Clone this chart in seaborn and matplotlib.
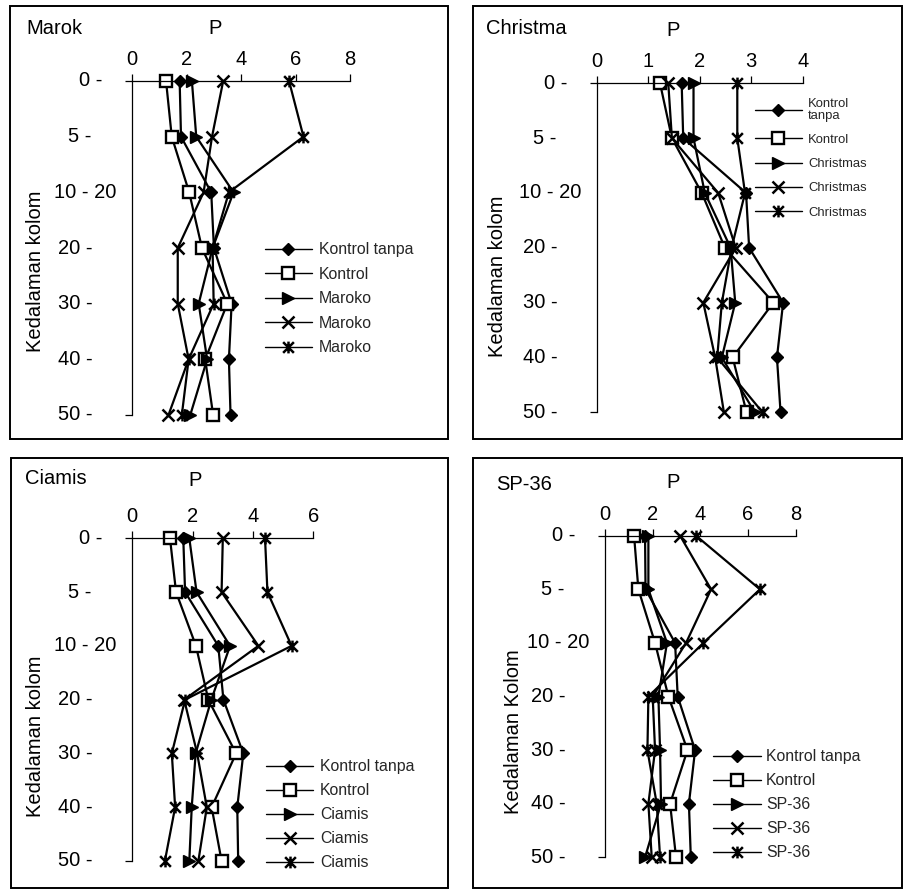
import numpy as np
import pandas as pd
import matplotlib
matplotlib.use("Agg")
import matplotlib.pyplot as plt
import matplotlib.transforms as mtransforms
from matplotlib.path import Path
from matplotlib.lines import Line2D
from matplotlib.patches import Rectangle
import seaborn as sns

sns.set_theme(style="white")
plt.rcParams["font.family"] = ["Liberation Sans", "DejaVu Sans"]

# ---------------- data ----------------
depth_labels = ["0 -", "5 -", "10 - 20", "20 -", "30 -", "40 -", "50 -"]

marok_kontrol_tanpa = [1.74, 1.79, 2.90, 3.00, 3.65, 3.55, 3.61]
marok_kontrol = [1.24, 1.45, 2.09, 2.56, 3.49, 2.68, 2.97]
marok_tri = [2.19, 2.35, 3.72, 2.95, 2.44, 2.75, 2.13]
marok_x = [3.34, 2.93, 2.62, 1.67, 1.67, 2.07, 1.33]
marok_star = [5.76, 6.29, 3.55, 2.95, 2.99, 2.07, 1.82]

christ_kontrol_tanpa = [1.65, 1.68, 2.90, 2.96, 3.62, 3.50, 3.57]
christ_kontrol = [1.23, 1.46, 2.04, 2.49, 3.43, 2.64, 2.91]
christ_tri = [1.88, 1.88, 2.10, 2.60, 2.69, 2.43, 3.07]
christ_x = [1.39, 1.46, 2.36, 2.70, 2.07, 2.30, 2.47]
christ_star = [2.73, 2.73, 2.88, 2.62, 2.43, 2.34, 3.22]

ciamis_kontrol_tanpa = [1.69, 1.75, 2.85, 3.02, 3.68, 3.48, 3.51]
ciamis_kontrol = [1.25, 1.45, 2.11, 2.52, 3.44, 2.63, 2.96]
ciamis_tri = [1.89, 2.13, 3.24, 2.62, 2.10, 1.97, 1.89]
ciamis_x = [3.00, 2.96, 4.18, 1.72, 2.15, 2.47, 2.19]
ciamis_star = [4.40, 4.48, 5.28, 1.75, 1.31, 1.42, 1.08]

sp36_kontrol_tanpa = [1.68, 1.70, 2.94, 3.05, 3.78, 3.52, 3.60]
sp36_kontrol = [1.22, 1.40, 2.10, 2.66, 3.46, 2.73, 2.98]
sp36_tri = [1.82, 1.82, 2.60, 2.24, 2.31, 2.35, 1.68]
sp36_x = [3.15, 4.45, 3.40, 2.00, 2.10, 1.82, 1.96]
sp36_star = [3.82, 6.50, 4.13, 1.82, 1.78, 2.17, 2.31]

x_ticks_8 = [0, 2, 4, 6, 8]
x_ticks_4 = [0, 1, 2, 3, 4]
x_ticks_6 = [0, 2, 4, 6]

# ---------------- styling ----------------
W, H = 904, 893
fig = plt.figure(figsize=(W / 100, H / 100), dpi=100)

star_path = Path([(-0.5, -0.5), (0.5, 0.5), (-0.5, 0.5), (0.5, -0.5), (0, -0.55), (0, 0.55)],
                 [Path.MOVETO, Path.LINETO, Path.MOVETO, Path.LINETO, Path.MOVETO, Path.LINETO])

marker_styles = [
    dict(marker="D", markersize=6.5, markerfacecolor="black", markeredgecolor="black", markeredgewidth=1.0),
    dict(marker="s", markersize=8.3, markerfacecolor="white", markeredgecolor="black", markeredgewidth=1.7),
    dict(marker=">", markersize=8.8, markerfacecolor="black", markeredgecolor="black", markeredgewidth=1.0),
    dict(marker="x", markersize=8.5, markerfacecolor="none", markeredgecolor="black", markeredgewidth=1.8),
    dict(marker=star_path, markersize=8.5, markerfacecolor="none", markeredgecolor="black", markeredgewidth=1.8),
]

label_gap_px = [29.5, 40.5, 15.5, 39.5, 39.5, 39.5, 39.5]
FS = 14.5

panels = [
    dict(title="Marok", treat="Maroko", ylabel="Kedalaman kolom",
         series=[marok_kontrol_tanpa, marok_kontrol, marok_tri, marok_x, marok_star],
         xticks=x_ticks_8, ax_px=(132.3, 350.0, 81.0, 415.0),
         title_px=(26, 28), p_px=(215, 28.5), ylab_px=(36, 271),
         leg=dict(fs=11.4, x0=265, x1=311.7, tx=319, y0=248.3, pitch=24.6, wrap=False)),
    dict(title="Christma", treat="Christmas", ylabel="Kedalaman kolom",
         series=[christ_kontrol_tanpa, christ_kontrol, christ_tri, christ_x, christ_star],
         xticks=x_ticks_4, ax_px=(596.7, 802.7, 83.3, 412.3),
         title_px=(486, 28.3), p_px=(673.3, 30), ylab_px=(497.5, 276.7),
         leg=dict(fs=9.4, x0=755, x1=801.7, tx=808, y0=103.5, pitch=24.5, wrap=True)),
    dict(title="Ciamis", treat="Ciamis", ylabel="Kedalaman kolom",
         series=[ciamis_kontrol_tanpa, ciamis_kontrol, ciamis_tri, ciamis_x, ciamis_star],
         xticks=x_ticks_6, ax_px=(132.3, 313.3, 538.3, 861.0),
         title_px=(25, 478.3), p_px=(195, 481), ylab_px=(35.3, 736.7),
         leg=dict(fs=11.4, x0=265.7, x1=313.3, tx=320, y0=765, pitch=24.2, wrap=False)),
    dict(title="SP-36", treat="SP-36", ylabel="Kedalaman Kolom",
         series=[sp36_kontrol_tanpa, sp36_kontrol, sp36_tri, sp36_x, sp36_star],
         xticks=x_ticks_8, ax_px=(605.0, 795.7, 535.7, 857.3),
         title_px=(496, 484.3), p_px=(673.3, 482.3), ylab_px=(513.3, 731.7),
         leg=dict(fs=11.4, x0=713.3, x1=760.7, tx=766, y0=755, pitch=24.2, wrap=False)),
]

frames_px = [(10, 6, 448, 439), (473, 6, 902, 439), (11, 458, 448, 888), (473, 458, 902, 888)]

for fr in frames_px:
    x0, y0, x1, y1 = fr
    fig.add_artist(Rectangle((x0 / W, 1 - y1 / H), (x1 - x0) / W, (y1 - y0) / H,
                             transform=fig.transFigure, fill=False, lw=1.4, ec="black"))

positions = np.arange(len(depth_labels))

for p in panels:
    x0, x1, yt, yb = p["ax_px"]
    ax = fig.add_axes([x0 / W, 1 - yb / H, (x1 - x0) / W, (yb - yt) / H])
    names = ["Kontrol tanpa", "Kontrol", p["treat"], p["treat"], p["treat"]]
    for vals, st in zip(p["series"], marker_styles):
        sns.lineplot(x=np.array(vals), y=positions, sort=False, estimator=None, orient="y",
                     color="black", lw=1.6, clip_on=False, ax=ax, **st)
    ax.set_xlim(0, p["xticks"][-1])
    ax.set_ylim(len(depth_labels) - 1, 0)
    ax.set_xlabel("")
    ax.set_ylabel("")
    ax.patch.set_alpha(0)
    for s in ["right", "bottom"]:
        ax.spines[s].set_visible(False)
    for s in ["top", "left"]:
        ax.spines[s].set_visible(True)
        ax.spines[s].set_color("black")
        ax.spines[s].set_linewidth(0.9)
    ax.xaxis.tick_top()
    ax.set_xticks(p["xticks"])
    ax.set_xticklabels([str(t) for t in p["xticks"]])
    ax.tick_params(axis="x", top=True, bottom=False, direction="out", length=5, width=0.9,
                   color="black", labelsize=FS, pad=3.5, labelcolor="black")
    ax.set_yticks([0, len(depth_labels) - 1])
    ax.set_yticklabels(["", ""])
    ax.tick_params(axis="y", left=True, direction="out", length=5, width=0.9, color="black")
    ax.grid(False)
    # category labels
    base = mtransforms.blended_transform_factory(ax.transAxes, ax.transData)
    for i, (lab, gap) in enumerate(zip(depth_labels, label_gap_px)):
        tr = mtransforms.offset_copy(base, fig=fig, x=-gap, y=0, units="dots")
        ax.text(0, positions[i], lab, transform=tr, ha="right", va="center",
                fontsize=FS, color="black")
    # titles
    fig.text(p["title_px"][0] / W, 1 - p["title_px"][1] / H, p["title"], ha="left", va="center",
             fontsize=FS, color="black")
    fig.text(p["p_px"][0] / W, 1 - p["p_px"][1] / H, "P", ha="center", va="center",
             fontsize=FS, color="black")
    fig.text(p["ylab_px"][0] / W, 1 - p["ylab_px"][1] / H, p["ylabel"], ha="center", va="center",
             rotation=90, fontsize=FS, color="black")
    # legend
    lg = p["leg"]
    fs_px = lg["fs"] * 100 / 72
    handles = [Line2D([], [], color="black", lw=1.0, **st) for st in marker_styles]
    labels = list(names)
    if lg["wrap"]:
        labels[0] = "Kontrol\ntanpa"
    text_h = fs_px * 0.955
    top = lg["y0"] - 0.37 * fs_px if not lg["wrap"] else lg["y0"] - 0.4 * fs_px
    leg = ax.legend(handles, labels, loc="upper left",
                    bbox_to_anchor=(lg["x0"] / W, 1 - top / H), bbox_transform=fig.transFigure,
                    frameon=False, borderpad=0, borderaxespad=0, fontsize=lg["fs"],
                    handlelength=(lg["x1"] - lg["x0"]) / fs_px,
                    handletextpad=(lg["tx"] - lg["x1"]) / fs_px,
                    labelspacing=(lg["pitch"] - text_h) / fs_px)
    if lg["wrap"]:
        leg.get_texts()[0].set_linespacing(0.95)

fig.savefig("out.png", dpi=100)
